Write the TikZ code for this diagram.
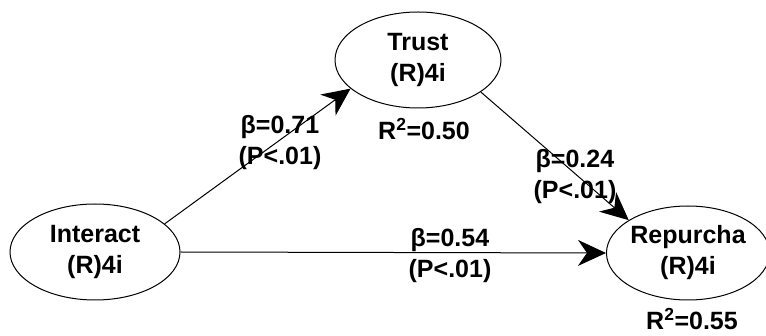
\documentclass[tikz,border=0pt]{standalone}
\usepackage{fontspec}
\setmainfont{Liberation Sans}
\usepackage{tikz}
\usetikzlibrary{arrows.meta, shapes.geometric}

\tikzset{
  construct/.style={draw, ellipse, line width=1pt, inner sep=0pt, align=center},
  coef/.style={align=center},
  pathline/.style={->, line width=1pt},
}

\begin{document}
\begin{tikzpicture}[x=1pt, y=-1pt, >={Stealth[length=28pt, width=26pt, inset=9pt]}, font=\fontsize{25}{31}\selectfont\bfseries]
  \useasboundingbox (0,0) rectangle (766,336);

  % latent variables
  \node[construct, minimum width=170pt, minimum height=96pt] (interact) at (95,252) {Interact\\(R)4i};
  \node[construct, minimum width=166pt, minimum height=96pt] (trust) at (418,60) {Trust\\(R)4i};
  \node[construct, minimum width=156pt, minimum height=94pt] (repurcha) at (688,253) {Repurcha\\(R)4i};

  \node (rtrust) at (424,129) {R\textsuperscript{2}=0.50};
  \node (rrep) at (692,319) {R\textsuperscript{2}=0.55};

  % paths
  \draw[pathline] (interact.22.5) -- (trust.203);
  \draw[pathline] (trust.333) -- (repurcha.151);
  \draw[pathline] (interact.east) -- (repurcha.west);

  \node[coef] (c1) at (280,143) {β=0.71\\(P<.01)};
  \node[coef] (c2) at (575,177) {β=0.24\\(P<.01)};
  \node[coef] (c3) at (450,256) {β=0.54\\(P<.01)};
\end{tikzpicture}
\end{document}
